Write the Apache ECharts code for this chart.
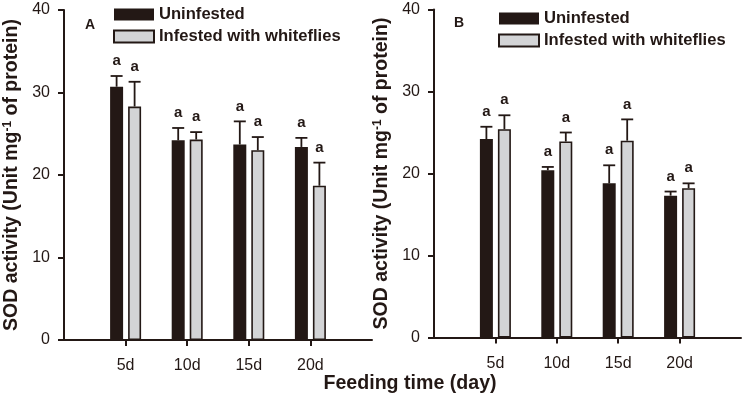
<!DOCTYPE html>
<html>
<head>
<meta charset="utf-8">
<script src="https://cdn.jsdelivr.net/npm/echarts@6/dist/echarts.min.js"></script>
<style>
html,body{margin:0;padding:0;background:#fff;}
#chart{width:744px;height:403px;}
</style>
</head>
<body>
<div id="chart"></div>
<script>
// ---- data ----
const categories = ['', '5d', '10d', '15d', '20d', ''];
const seriesNames = ['Uninfested', 'Infested with whiteflies'];
const yTicks = [0, 10, 20, 30, 40];

const aUninfested    = [30.7, 24.2, 23.7, 23.4];
const aUninfestedErr = [1.3, 1.5, 2.8, 1.1];
const aInfested      = [28.3, 24.3, 23.0, 18.7];
const aInfestedErr   = [3.0, 0.9, 1.6, 2.8];

const bUninfested    = [24.2, 20.4, 18.8, 17.3];
const bUninfestedErr = [1.5, 0.4, 2.2, 0.5];
const bInfested      = [25.4, 23.9, 24.0, 18.2];
const bInfestedErr   = [1.7, 1.1, 2.6, 0.6];

const aUninfestedLetters = ['a', 'a', 'a', 'a'];
const aInfestedLetters   = ['a', 'a', 'a', 'a'];
const bUninfestedLetters = ['a', 'a', 'a', 'a'];
const bInfestedLetters   = ['a', 'a', 'a', 'a'];

const panelLabels = ['A', 'B'];
const yTitle = 'SOD activity (Unit mg{sup|-1} of protein)';
const xTitle = 'Feeding time (day)';

// ---- style ----
const DARK = '#231815';
const GRAY = '#d3d4d6';
const FONT = '"Liberation Sans", Arial, Helvetica, sans-serif';
const BAR_W = 13;
const GAP_PX = 5;

function padded(arr) { return ['-'].concat(arr).concat(['-']); }

function barSeries(name, data, idx, dark) {
  return {
    type: 'bar', name: name, xAxisIndex: idx, yAxisIndex: idx,
    data: padded(data), barWidth: BAR_W, barGap: (GAP_PX / BAR_W * 100) + '%',
    itemStyle: dark ? { color: DARK, borderColor: DARK, borderWidth: 0 }
                    : { color: GRAY, borderColor: DARK, borderWidth: 1.6 },
    z: 2
  };
}

function errSeries(name, means, errs, letters, idx, side) {
  const data = means.map((m, i) => [i + 1, m, errs[i], letters[i]]);
  return {
    type: 'custom', name: name, xAxisIndex: idx, yAxisIndex: idx, z: 5,
    data: data,
    renderItem: function (params, api) {
      const c = api.value(0), m = api.value(1), e = api.value(2);
      const p0 = api.coord([c, m]);
      const p1 = api.coord([c, m + e]);
      const x = p0[0] + side * (BAR_W + GAP_PX) / 2;
      const half = 6;
      return {
        type: 'group',
        children: [
          { type: 'line', shape: { x1: x, y1: p0[1], x2: x, y2: p1[1] }, style: { stroke: DARK, lineWidth: 1.8 } },
          { type: 'line', shape: { x1: x - half, y1: p1[1], x2: x + half, y2: p1[1] }, style: { stroke: DARK, lineWidth: 1.8 } },
          { type: 'text', x: x, y: p1[1] - 15,
            style: { text: data[params.dataIndex][3], fill: DARK, font: 'bold 15px ' + FONT, textAlign: 'center', textVerticalAlign: 'middle' } }
        ]
      };
    }
  };
}

function xAxis(idx) {
  return {
    type: 'category', gridIndex: idx, data: categories, boundaryGap: false,
    axisLine: { lineStyle: { color: DARK, width: 2 } },
    axisTick: { length: 6, interval: function (i) { return i > 0 && i < categories.length - 1; }, lineStyle: { color: DARK, width: 2 } },
    axisLabel: { color: DARK, fontSize: 16, fontFamily: FONT, margin: 18, interval: 0 },
    splitLine: { show: false }
  };
}

function yAxis(idx) {
  return {
    type: 'value', gridIndex: idx, min: yTicks[0], max: yTicks[yTicks.length - 1], interval: 10,
    axisLine: { show: true, lineStyle: { color: DARK, width: 2 } },
    axisTick: { show: true, length: 6, lineStyle: { color: DARK, width: 2 } },
    axisLabel: { color: DARK, fontSize: 16, fontFamily: FONT, margin: 14 },
    splitLine: { show: false },
    name: yTitle, nameLocation: 'middle', nameGap: 42, nameRotate: 90,
    nameTextStyle: {
      color: DARK, fontSize: 19.5, fontWeight: 'bold', fontFamily: FONT,
      rich: { sup: { fontSize: 12, fontWeight: 'bold', fontFamily: FONT, color: DARK, verticalAlign: 'top', padding: [0, 0, 8, 0] } }
    }
  };
}

function legend(left, top) {
  return {
    orient: 'vertical', left: left, top: top, icon: 'rect', padding: 0,
    itemWidth: 40, itemHeight: 12, itemGap: 5,
    data: seriesNames,
    textStyle: { color: DARK, fontSize: 16.6, fontWeight: 'bold', fontFamily: FONT, lineHeight: 16 },
    selectedMode: false
  };
}

const option = {
  animation: false,
  backgroundColor: '#fff',
  grid: [
    { left: 64, top: 10, width: 308, height: 330 },
    { left: 434, top: 9.5, width: 308, height: 328 }
  ],
  xAxis: [xAxis(0), xAxis(1)],
  yAxis: [yAxis(0), yAxis(1)],
  legend: [legend(113, 6), legend(498, 10)],
  graphic: [
    { type: 'text', x: 90, y: 25, style: { text: panelLabels[0], font: 'bold 14px ' + FONT, fill: DARK, textAlign: 'center', textVerticalAlign: 'middle' } },
    { type: 'text', x: 459, y: 23, style: { text: panelLabels[1], font: 'bold 14px ' + FONT, fill: DARK, textAlign: 'center', textVerticalAlign: 'middle' } },
    { type: 'text', x: 410, y: 384, style: { text: xTitle, font: 'bold 19.6px ' + FONT, fill: DARK, textAlign: 'center', textVerticalAlign: 'middle' } }
  ],
  series: [
    barSeries(seriesNames[0], aUninfested, 0, true),
    barSeries(seriesNames[1], aInfested, 0, false),
    barSeries(seriesNames[0], bUninfested, 1, true),
    barSeries(seriesNames[1], bInfested, 1, false),
    errSeries(seriesNames[0], aUninfested, aUninfestedErr, aUninfestedLetters, 0, -1),
    errSeries(seriesNames[1], aInfested, aInfestedErr, aInfestedLetters, 0, 1),
    errSeries(seriesNames[0], bUninfested, bUninfestedErr, bUninfestedLetters, 1, -1),
    errSeries(seriesNames[1], bInfested, bInfestedErr, bInfestedLetters, 1, 1)
  ]
};

const chart = echarts.init(document.getElementById('chart'), null, { renderer: 'canvas' });
chart.setOption(option);
</script>
</body>
</html>
